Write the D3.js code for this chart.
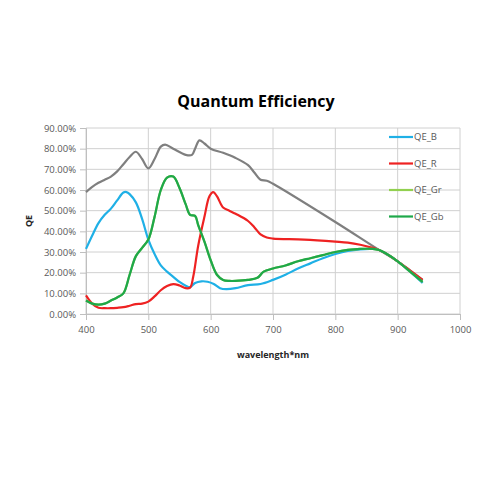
<!DOCTYPE html>
<html>
<head>
<meta charset="utf-8">
<script src="https://cdn.jsdelivr.net/npm/d3@7"></script>
<style>
  body { margin: 0; background: #fff; }
  svg text { font-family: "Open Sans", sans-serif; }
</style>
</head>
<body>
<div id="chart"></div>
<script>
// wavelengths (nm) and QE values (%)
const wlB = [400, 410, 420, 430, 440, 450, 460, 465, 470, 480, 490, 500, 510, 520, 530, 540, 550, 560, 567, 575, 585, 595, 605, 615, 625, 640, 660, 680, 700, 720, 740, 760, 780, 800, 820, 840, 860, 870, 880, 900, 920, 940];
const qeB = [31.5, 38, 44, 48, 51, 55, 58.8, 59, 58, 54, 46, 36, 29, 23.5, 20.5, 18, 15.5, 13.7, 13, 15, 15.8, 15.6, 14.5, 12.5, 12, 12.5, 14, 14.5, 16.5, 19, 22, 24.5, 27, 29, 30.5, 31.3, 31.5, 31, 29.5, 25.5, 20.5, 15];

const wlR = [400, 410, 420, 430, 440, 450, 460, 470, 480, 490, 500, 510, 520, 530, 540, 550, 560, 567, 572, 580, 590, 598, 604, 610, 620, 630, 640, 660, 670, 680, 690, 700, 750, 800, 820, 840, 860, 870, 880, 900, 920, 940];
const qeR = [9, 5, 3, 2.8, 2.8, 3, 3.3, 4, 4.8, 5, 6, 8.5, 11.5, 13.5, 14.5, 13.8, 12.5, 12.8, 18, 33, 47, 57, 59, 57, 51.5, 50, 48.5, 45, 42, 38.5, 37, 36.5, 36, 35, 34.5, 33.5, 32, 31, 29.5, 25.5, 21, 16.5];

const wlG = [400, 410, 420, 430, 440, 450, 460, 470, 480, 490, 500, 510, 520, 530, 540, 550, 560, 567, 575, 580, 590, 600, 610, 620, 630, 640, 660, 675, 685, 700, 720, 740, 760, 780, 800, 820, 840, 860, 870, 880, 900, 920, 940];
const qeGr = [6.5, 5, 4.5, 5, 6.5, 8, 10, 19, 28, 32, 36, 47, 60, 66, 66.5, 61, 53, 48, 47.5, 43, 35, 26, 19, 16.5, 16, 16, 16.5, 17.5, 20.5, 22, 23.5, 25.5, 27, 28.5, 30, 31, 31.5, 31.5, 31, 29.5, 25.5, 20.5, 15.5];
const qeGb = [6.5, 5, 4.5, 5, 6.5, 8, 10, 19, 28, 32, 36, 47, 60, 66, 66.5, 61, 53, 48, 47.5, 43, 35, 26, 19, 16.5, 16, 16, 16.5, 17.5, 20.5, 22, 23.5, 25.5, 27, 28.5, 30, 31, 31.5, 31.5, 31, 29.5, 25.5, 20.5, 15.5];

const wlMono = [400, 410, 420, 430, 440, 450, 460, 470, 480, 490, 500, 510, 520, 527, 540, 560, 570, 575, 582, 590, 600, 620, 640, 660, 670, 680, 690, 700, 800, 870, 900, 940];
const qeMono = [59, 61.5, 63.5, 65, 66.5, 69, 72.5, 76, 78.5, 75, 70.5, 75, 81, 82, 80, 77, 77, 80, 84, 82.5, 80, 78, 75.5, 72, 68.5, 65, 64.5, 63, 44.5, 31, 25.5, 16.5];

const legendNames = ['QE_B', 'QE_R', 'QE_Gr', 'QE_Gb'];
const yTicks = [0, 10, 20, 30, 40, 50, 60, 70, 80, 90];
const xTicks = [400, 500, 600, 700, 800, 900, 1000];

const series = [
    { name: 'mono', wl: wlMono, qe: qeMono, color: '#7f7f7f' },
    { name: 'QE_B', wl: wlB, qe: qeB, color: '#1fb0e6' },
    { name: 'QE_R', wl: wlR, qe: qeR, color: '#ee2222' },
    { name: 'QE_Gr', wl: wlG, qe: qeGr, color: '#92d050' },
    { name: 'QE_Gb', wl: wlG, qe: qeGb, color: '#1ea84a' }
];

//dimensions
const margin = { top: 128, right: 40, bottom: 186, left: 86 };
const width = 500, height = 500;
const graphWidth = width - margin.left - margin.right;
const graphHeight = height - margin.top - margin.bottom;

const svg = d3.select('#chart')
    .append('svg')
    .attr('width', width)
    .attr('height', height);

const graph = svg.append('g')
    .attr('transform', `translate(${margin.left}, ${margin.top})`);

//scales
const x = d3.scaleLinear().domain([400, 1000]).range([0, graphWidth]);
const y = d3.scaleLinear().domain([0, 90]).range([graphHeight, 0]);

// gridlines
graph.append('g')
    .selectAll('line.h')
    .data(yTicks)
    .join('line')
    .attr('x1', 0).attr('x2', graphWidth)
    .attr('y1', d => y(d)).attr('y2', d => y(d))
    .attr('stroke', '#d0d0d0');

graph.append('g')
    .selectAll('line.v')
    .data(xTicks)
    .join('line')
    .attr('x1', d => x(d)).attr('x2', d => x(d))
    .attr('y1', 0).attr('y2', graphHeight)
    .attr('stroke', '#d0d0d0');

// axes
const yAxis = d3.axisLeft(y)
    .tickValues(yTicks)
    .tickSize(6)
    .tickPadding(4)
    .tickFormat(d => d.toFixed(2) + '%');

const xAxis = d3.axisBottom(x)
    .tickValues(xTicks)
    .tickSize(6)
    .tickPadding(6)
    .tickFormat(d3.format('d'));

const yAxisGroup = graph.append('g').call(yAxis);
const xAxisGroup = graph.append('g')
    .attr('transform', `translate(0, ${graphHeight})`)
    .call(xAxis);

[yAxisGroup, xAxisGroup].forEach(g => {
    g.selectAll('path, line').attr('stroke', '#bfbfbf');
    g.selectAll('text')
        .attr('fill', '#595959')
        .style('font-size', '9.5px');
});

// lines, smoothed like the spreadsheet
const line = d3.line()
    .x(d => x(d[0]))
    .y(d => y(d[1]))
    .curve(d3.curveCatmullRom.alpha(0.5));

graph.append('g')
    .selectAll('path')
    .data(series)
    .join('path')
    .attr('fill', 'none')
    .attr('stroke', d => d.color)
    .attr('stroke-width', 2.2)
    .attr('stroke-linejoin', 'round')
    .attr('d', d => line(d.wl.map((w, i) => [w, d.qe[i]])));

// legend
const legend = graph.append('g')
    .attr('transform', `translate(${graphWidth - 71}, 9)`);

const legendRows = legend.selectAll('g')
    .data(legendNames)
    .join('g')
    .attr('transform', (d, i) => `translate(0, ${i * 26.5})`);

legendRows.append('line')
    .attr('x1', 0).attr('x2', 24)
    .attr('stroke', d => series.find(s => s.name === d).color)
    .attr('stroke-width', 2.2);

legendRows.append('text')
    .attr('x', 25)
    .attr('dy', '0.35em')
    .attr('fill', '#595959')
    .style('font-size', '9.5px')
    .text(d => d);

// titles
svg.append('text')
    .attr('x', 256)
    .attr('y', 107)
    .attr('text-anchor', 'middle')
    .attr('font-weight', 'bold')
    .style('font-size', '16px')
    .attr('fill', '#000')
    .text('Quantum Efficiency');

svg.append('text')
    .attr('x', 273)
    .attr('y', 358)
    .attr('text-anchor', 'middle')
    .attr('font-weight', 'bold')
    .style('font-size', '9px')
    .attr('fill', '#262626')
    .text('wavelength*nm');

svg.append('text')
    .attr('transform', 'translate(32, 221) rotate(-90)')
    .attr('text-anchor', 'middle')
    .attr('font-weight', 'bold')
    .style('font-size', '9px')
    .attr('fill', '#262626')
    .text('QE');
</script>
</body>
</html>
